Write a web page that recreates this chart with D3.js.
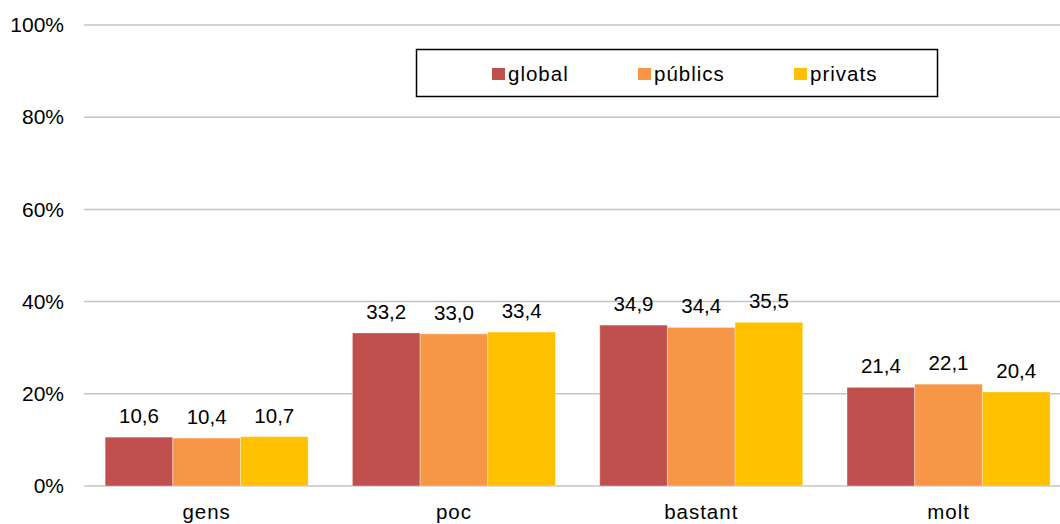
<!DOCTYPE html>
<html>
<head>
<meta charset="utf-8">
<script src="https://cdn.jsdelivr.net/npm/d3@7/dist/d3.min.js"></script>
<style>
  html, body { margin: 0; padding: 0; background: #fff; }
  svg { display: block; font-family: "Liberation Sans", Arial, sans-serif; }
</style>
</head>
<body>
<svg id="chart" width="1060" height="524"></svg>
<script>
const categories = ["gens", "poc", "bastant", "molt"];
const seriesNames = ["global", "públics", "privats"];
const seriesColors = ["#C0504D", "#F79646", "#FFC000"];
const globalValues = [10.6, 33.2, 34.9, 21.4];
const publicsValues = [10.4, 33.0, 34.4, 22.1];
const privatsValues = [10.7, 33.4, 35.5, 20.4];
const yTicks = [0, 20, 40, 60, 80, 100];

const seriesValues = [globalValues, publicsValues, privatsValues];

const svg = d3.select("#chart");
const plotLeft = 83, band = 247.3, plotTop = 25, plotBottom = 486;

const x0 = d3.scaleBand().domain(categories).range([plotLeft, plotLeft + band * categories.length]).padding(0);
const groupPad = x0.bandwidth() * 0.0895;
const x1 = d3.scaleBand().domain(seriesNames).range([groupPad, x0.bandwidth() - groupPad]).padding(0);
const y = d3.scaleLinear().domain([0, 100]).range([plotBottom, plotTop]);

// gridlines
svg.append("g").selectAll("line").data(yTicks).join("line")
  .attr("x1", 84).attr("x2", 1060)
  .attr("y1", d => y(d)).attr("y2", d => y(d))
  .attr("stroke", "#c4c4c4").attr("stroke-width", 1.5);

// y axis labels
const yAxis = d3.axisLeft(y).tickValues(yTicks).tickFormat(d => d + "%").tickSize(0).tickPadding(0);
const yg = svg.append("g").attr("transform", "translate(64,0)").call(yAxis);
yg.select(".domain").remove();
yg.selectAll("text").attr("font-size", 21).attr("fill", "#000")
  .attr("font-family", '"Liberation Sans", Arial, sans-serif');

// bars
const groups = svg.append("g").selectAll("g").data(categories).join("g")
  .attr("transform", c => `translate(${x0(c)},0)`);

groups.each(function(c, ci) {
  const g = d3.select(this);
  seriesNames.forEach((s, si) => {
    const v = seriesValues[si][ci];
    g.append("rect")
      .attr("x", x1(s)).attr("width", x1.bandwidth())
      .attr("y", y(v)).attr("height", y(0) - y(v))
      .attr("fill", seriesColors[si])
      .attr("stroke", "rgba(255,255,255,0.35)").attr("stroke-width", 1);
    g.append("text")
      .attr("x", x1(s) + x1.bandwidth() / 2)
      .attr("y", y(v) - 14)
      .attr("text-anchor", "middle")
      .attr("font-size", 20.5).attr("fill", "#000")
      .text(d3.format(".1f")(v).replace(".", ","));
  });
});

// x axis labels
const xAxis = d3.axisBottom(x0).tickSize(0).tickPadding(0);
const xg = svg.append("g").attr("transform", `translate(0,${plotBottom})`).call(xAxis);
xg.select(".domain").remove();
xg.selectAll("text")
  .attr("font-size", 20.5).attr("fill", "#000")
  .attr("font-family", '"Liberation Sans", Arial, sans-serif')
  .attr("letter-spacing", 1)
  .attr("dy", null).attr("y", 33);

// legend
const lg = svg.append("g");
lg.append("rect").attr("x", 416.5).attr("y", 49.5).attr("width", 521).attr("height", 47)
  .attr("fill", "#fff").attr("stroke", "#000").attr("stroke-width", 1.5);
const legendX = [492, 638, 794];
seriesNames.forEach((s, i) => {
  lg.append("rect").attr("x", legendX[i]).attr("y", 68).attr("width", 13).attr("height", 12)
    .attr("fill", seriesColors[i]);
  lg.append("text").attr("x", legendX[i] + 16).attr("y", 81)
    .attr("font-size", 20.5).attr("fill", "#000").attr("letter-spacing", 1)
    .text(s);
});
</script>
</body>
</html>
